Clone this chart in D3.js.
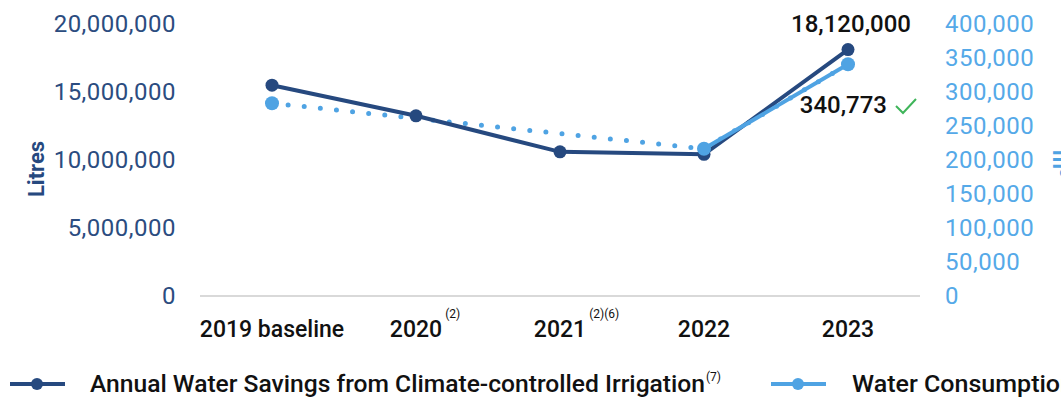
<!DOCTYPE html>
<html lang="en">
<head>
<meta charset="utf-8">
<title>Water chart</title>
<script src="https://d3js.org/d3.v7.min.js"></script>
<style>
  body { margin: 0; background: #fff; }
  svg { display: block; font-family: Roboto, "Noto Sans", sans-serif; }
  .tick-left { fill: #2b4c80; font-size: 24px; letter-spacing: 0.5px; }
  .tick-right { fill: #55a9e8; font-size: 24px; letter-spacing: 0.5px; }
  .xlab { fill: #111; font-size: 23px; font-weight: 500; }
  .sup { font-size: 12px; }
  .legend { fill: #111; font-size: 23px; font-weight: 500; }
</style>
</head>
<body>
<script>
// categories and values
var categories = ["2019 baseline", "2020", "2021", "2022", "2023"];
var footnotes = ["", "(2)", "(2)(6)", "", ""];
var savings = [15500000, 13250000, 10600000, 10420000, 18120000];       // litres, left axis
var consumption = [283500, null, null, 216500, 340773];                  // right axis
var leftTicks = [0, 5000000, 10000000, 15000000, 20000000];
var rightTicks = [0, 50000, 100000, 150000, 200000, 250000, 300000, 350000, 400000];
var seriesNames = ["Annual Water Savings from Climate-controlled Irrigation", "Water Consumption"];

var w = 1061, h = 402;
var dark = "#26497f", light = "#4fa3e3";

var svg = d3.select("body").append("svg").attr("width", w).attr("height", h);

var x = d3.scaleBand().domain(categories).range([200, 920]);
var yL = d3.scaleLinear().domain([0, 20000000]).range([296, 24]);
var yR = d3.scaleLinear().domain([0, 400000]).range([296, 24]);
var fmt = d3.format(",");
var cx = function (i) { return x(categories[i]) + x.bandwidth() / 2; };

// baseline
svg.append("line")
   .attr("x1", 200).attr("x2", 920)
   .attr("y1", yL(0)).attr("y2", yL(0))
   .attr("stroke", "#d9d9d9").attr("stroke-width", 2);

// left axis labels
svg.selectAll(".tick-left").data(leftTicks).enter().append("text")
   .attr("class", "tick-left")
   .attr("x", 176).attr("y", function (d) { return yL(d); })
   .attr("dy", "0.35em").attr("text-anchor", "end")
   .text(fmt);

// right axis labels
svg.selectAll(".tick-right").data(rightTicks).enter().append("text")
   .attr("class", "tick-right")
   .attr("x", 945).attr("y", function (d) { return yR(d); })
   .attr("dy", "0.35em")
   .text(fmt);

// axis titles (the right one runs off the edge, as in the original)
svg.append("text")
   .attr("transform", "translate(44,169)rotate(-90)")
   .attr("text-anchor", "middle")
   .attr("fill", dark).attr("font-weight", 700).attr("font-size", "22px")
   .text("Litres");
svg.append("text")
   .attr("transform", "translate(1053,150)rotate(90)")
   .attr("fill", light).attr("font-weight", 700).attr("font-size", "22px")
   .text("m³");

// x labels
var xl = svg.selectAll(".xlab").data(categories).enter().append("text")
   .attr("class", "xlab")
   .attr("x", function (d, i) { return cx(i); })
   .attr("y", 337)
   .attr("text-anchor", "middle")
   .text(function (d) { return d; });
categories.forEach(function (d, i) {
  if (!footnotes[i]) return;
  var bb = xl.nodes()[i].getBBox();
  svg.append("text").attr("class", "sup")
     .attr("x", bb.x + bb.width + 3).attr("y", 318)
     .attr("fill", "#111")
     .text(footnotes[i]);
});

// consumption: dotted line across the missing years, solid where data is continuous
var cons = consumption.map(function (v, i) { return { i: i, v: v }; });
var consDefined = cons.filter(function (d) { return d.v !== null; });
var lineR = d3.line().x(function (d) { return cx(d.i); }).y(function (d) { return yR(d.v); });

svg.append("path").datum(consDefined)
   .attr("d", lineR)
   .attr("fill", "none").attr("stroke", light)
   .attr("stroke-width", 5).attr("stroke-linecap", "round")
   .attr("stroke-dasharray", "0 16.2");

// savings line
var sav = savings.map(function (v, i) { return { i: i, v: v }; });
var lineL = d3.line().x(function (d) { return cx(d.i); }).y(function (d) { return yL(d.v); });
svg.append("path").datum(sav)
   .attr("d", lineL)
   .attr("fill", "none").attr("stroke", dark).attr("stroke-width", 4);
svg.selectAll(".dot-l").data(sav).enter().append("circle")
   .attr("cx", function (d) { return cx(d.i); })
   .attr("cy", function (d) { return yL(d.v); })
   .attr("r", 6.5).attr("fill", dark);

svg.append("path").datum(cons)
   .attr("d", lineR.defined(function (d) { return d.v !== null; }))
   .attr("fill", "none").attr("stroke", light).attr("stroke-width", 4);
svg.selectAll(".dot-r").data(consDefined).enter().append("circle")
   .attr("cx", function (d) { return cx(d.i); })
   .attr("cy", function (d) { return yR(d.v); })
   .attr("r", 7).attr("fill", light);

// data labels on 2023
var last = categories.length - 1;
svg.append("text")
   .attr("x", cx(last) + 3).attr("y", yL(savings[last]) - 18)
   .attr("text-anchor", "middle").attr("fill", "#111")
   .attr("font-size", "24px").attr("font-weight", 500)
   .text(fmt(savings[last]));
svg.append("text")
   .attr("x", cx(last) + 39).attr("y", yR(consumption[last]) + 49)
   .attr("text-anchor", "end").attr("fill", "#111")
   .attr("font-size", "24px").attr("font-weight", 500)
   .text(fmt(consumption[last]));
svg.append("path")
   .attr("d", "M896,106 L903,113 L916,99")
   .attr("fill", "none").attr("stroke", "#3fb55a").attr("stroke-width", 2);

// legend
var legX = [10, 771], textX = [90, 852], textW = [615, 222], colors = [dark, light];
seriesNames.forEach(function (name, i) {
  svg.append("line")
     .attr("x1", legX[i]).attr("x2", legX[i] + 55)
     .attr("y1", 384).attr("y2", 384)
     .attr("stroke", colors[i]).attr("stroke-width", 4);
  svg.append("circle")
     .attr("cx", legX[i] + 27).attr("cy", 384).attr("r", 6)
     .attr("fill", colors[i]);
  svg.append("text").attr("class", "legend")
     .attr("x", textX[i]).attr("y", 392)
     .attr("textLength", textW[i]).attr("lengthAdjust", "spacingAndGlyphs")
     .text(name);
  if (i === 0) {
    svg.append("text").attr("class", "sup").attr("fill", "#111")
       .attr("x", 706).attr("y", 381).text("(7)");
  }
});
</script>
</body>
</html>
